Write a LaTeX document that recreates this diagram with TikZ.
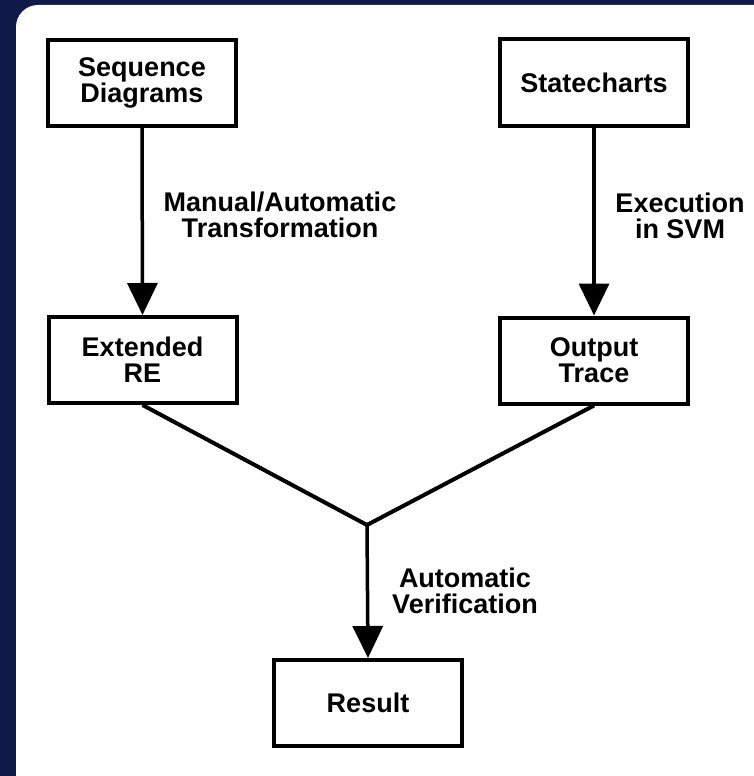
\documentclass[tikz,border=0pt]{standalone}
\usepackage{fontspec}
\setmainfont{Liberation Sans}
\usetikzlibrary{arrows.meta}
\definecolor{navybg}{RGB}{15,26,72}
\tikzset{
  box/.style={draw=black, line width=4pt, fill=white, minimum width=188pt, minimum height=86pt, inner sep=0pt, align=center, font=\fontsize{27}{26}\selectfont\bfseries},
  lbl/.style={align=center, inner sep=0pt, font=\fontsize{27}{26}\selectfont\bfseries},
  conn/.style={line width=3.5pt, -{Triangle[width=30pt,length=32pt]}},
  joinline/.style={line width=4pt}
}
\begin{document}
\begin{tikzpicture}[x=1pt,y=-1pt]
\useasboundingbox (0,0) rectangle (754,776);
\fill[navybg] (0,0) rectangle (754,776);
\fill[white, rounded corners=22pt] (16,5) rectangle (800,800);
\node[box] (seq) at (142,83) {Sequence\\Diagrams};
\node[box] (sc) at (594,82.5) {Statecharts};
\node[box] (ere) at (142.5,360) {Extended\\RE};
\node[box] (ot) at (594,360.5) {Output\\Trace};
\node[box] (res) at (368,703) {Result};
\coordinate (j) at (367,525);
\draw[conn] (seq.south) -- (ere.north);
\draw[conn] (sc.south) -- (ot.north);
\draw[joinline] (ere.south) -- (j);
\draw[joinline] (ot.south) -- (j);
\draw[conn] (j) -- (res.north);
\node[lbl] (l1) at (280,215) {Manual/Automatic\\Transformation};
\node[lbl] (l2) at (680,216) {Execution\\in SVM};
\node[lbl] (l3) at (465,591) {Automatic\\Verification};
\end{tikzpicture}
\end{document}
